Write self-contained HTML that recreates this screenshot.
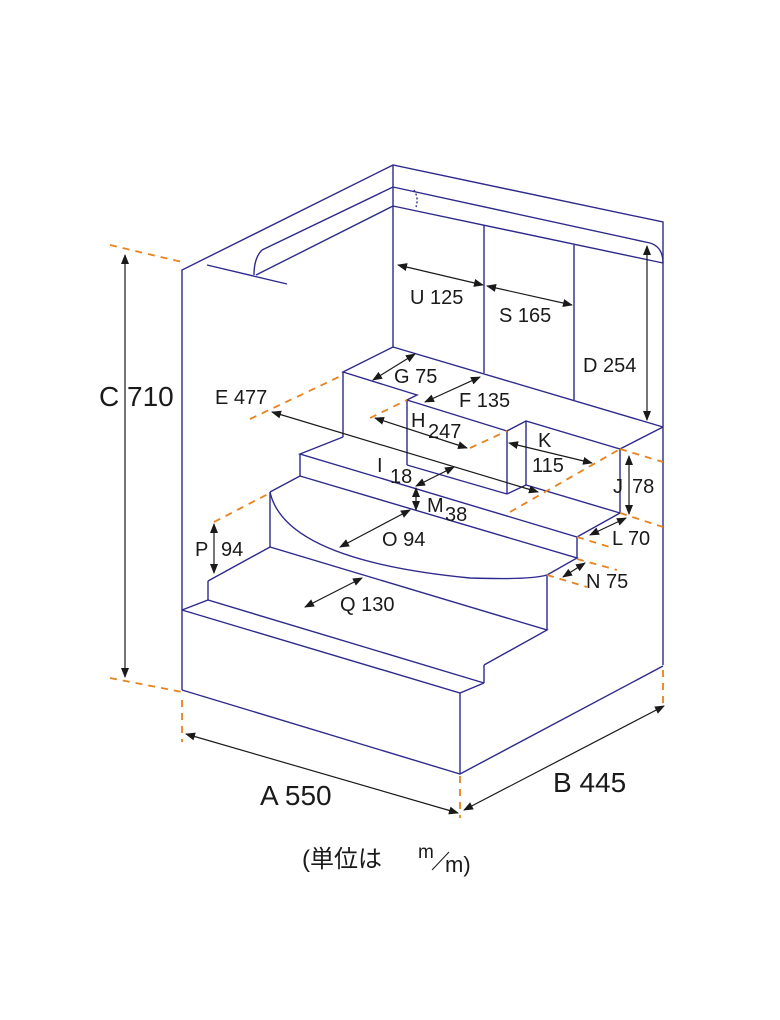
<!DOCTYPE html>
<html><head><meta charset="utf-8"><style>
html,body{margin:0;padding:0;background:#fff}
svg{display:block}
text{font-family:"Liberation Sans","Noto Sans CJK JP",sans-serif;fill:#1a1a1a}
</style></head><body>
<svg width="780" height="1020" viewBox="0 0 780 1020" xmlns="http://www.w3.org/2000/svg">
<defs>
<marker id="a" viewBox="0 0 10 10" refX="9" refY="5" markerWidth="10" markerHeight="10" orient="auto-start-reverse" markerUnits="userSpaceOnUse"><path d="M0,1 L10,5 L0,9 z" fill="#1a1a1a"/></marker>
</defs>
<g fill="none" stroke="#2e2a8c" stroke-width="1.4">
<polyline points="182,690 182,270 393,165 663,222 663,665"/>
<line x1="393" y1="165" x2="393" y2="347"/>
<line x1="393" y1="187" x2="262" y2="250"/>
<path d="M262,250 Q254,258 254,275"/>
<line x1="393" y1="206" x2="256" y2="275"/>
<line x1="207" y1="265" x2="287" y2="284"/>
<line x1="393" y1="187" x2="650" y2="243"/>
<path d="M650,243 Q663,247 663,263"/>
<line x1="393" y1="206" x2="663" y2="263"/>
<path d="M414,190 Q419,198 416,207" stroke-dasharray="2,2"/>
<line x1="484" y1="225" x2="484" y2="373"/>
<line x1="574" y1="245" x2="574" y2="400"/>
<line x1="393" y1="347" x2="663" y2="427"/>
<polyline points="393,347 343,372 417,395 407,400 507,431"/>
<line x1="343" y1="372" x2="343" y2="437"/>
<line x1="407" y1="400" x2="407" y2="465"/>
<polyline points="507,431 526,421 620,449 663,427"/>
<line x1="507" y1="431" x2="507" y2="494"/>
<line x1="526" y1="421" x2="526" y2="485"/>
<polyline points="507,494 526,485 620,513"/>
<line x1="620" y1="449" x2="620" y2="513"/>
<line x1="407" y1="465" x2="507" y2="494"/>
<polyline points="343,437 300,454 577,537 620,513"/>
<line x1="300" y1="454" x2="300" y2="476"/>
<polyline points="300,476 577,558 547,575"/>
<line x1="577" y1="537" x2="577" y2="558"/>
<line x1="300" y1="476" x2="270" y2="492"/>
<path d="M270,492 Q285,560 470,578 Q530,580 547,575"/>
<line x1="270" y1="492" x2="270" y2="547"/>
<polyline points="208,581 270,547 547,630 484,665"/>
<line x1="547" y1="575" x2="547" y2="630"/>
<line x1="208" y1="581" x2="208" y2="600"/>
<polyline points="182,610 208,600 484,683"/>
<line x1="484" y1="665" x2="484" y2="683"/>
<polyline points="182,610 460,693 484,683"/>
<polyline points="182,690 460,774 663,666"/>
<line x1="460" y1="693" x2="460" y2="774"/>
</g>
<g fill="none" stroke="#e8821e" stroke-width="1.8" stroke-dasharray="7,6">
<line x1="110" y1="245" x2="182" y2="262"/>
<line x1="110" y1="678" x2="182" y2="692"/>
<line x1="182" y1="700" x2="182" y2="742"/>
<line x1="460" y1="776" x2="460" y2="818"/>
<line x1="663" y1="670" x2="663" y2="708"/>
<line x1="250" y1="419" x2="343" y2="375"/>
<line x1="370" y1="418" x2="407" y2="400"/>
<line x1="470" y1="448" x2="507" y2="431"/>
<line x1="510" y1="512" x2="620" y2="449"/>
<line x1="620" y1="449" x2="663" y2="462"/>
<line x1="620" y1="513" x2="663" y2="527"/>
<line x1="577" y1="537" x2="613" y2="548"/>
<line x1="577" y1="559" x2="617" y2="570"/>
<line x1="547" y1="575" x2="587" y2="587"/>
<line x1="214" y1="522" x2="270" y2="493"/>
</g>
<g stroke="#1a1a1a" stroke-width="1.2" marker-start="url(#a)" marker-end="url(#a)">
<line x1="125" y1="255" x2="125" y2="677"/>
<line x1="186" y1="734" x2="458" y2="813"/>
<line x1="464" y1="810" x2="664" y2="706"/>
<line x1="398" y1="265" x2="483" y2="285"/>
<line x1="487" y1="286" x2="572" y2="305"/>
<line x1="647" y1="246" x2="647" y2="420"/>
<line x1="373" y1="380" x2="415" y2="354"/>
<line x1="425" y1="402" x2="480" y2="377"/>
<line x1="375" y1="418" x2="467" y2="448"/>
<line x1="272" y1="412" x2="538" y2="492"/>
<line x1="416" y1="486" x2="454" y2="467"/>
<line x1="416" y1="488" x2="416" y2="510"/>
<line x1="340" y1="547" x2="410" y2="510"/>
<line x1="305" y1="607" x2="362" y2="578"/>
<line x1="214" y1="524" x2="214" y2="573"/>
<line x1="629" y1="456" x2="629" y2="514"/>
<line x1="509" y1="443" x2="592" y2="463"/>
<line x1="590" y1="535" x2="626" y2="518"/>
<line x1="563" y1="577" x2="585" y2="563"/>
</g>
<g font-size="20">
<text x="410" y="304">U 125</text>
<text x="499" y="322">S 165</text>
<text x="583" y="372">D 254</text>
<text x="394" y="383">G 75</text>
<text x="459" y="407">F 135</text>
<text x="215" y="404">E 477</text>
<text x="411" y="427">H</text><text x="428" y="438">247</text>
<text x="538" y="447">K</text>
<text x="532" y="472">115</text>
<text x="613" y="493">J</text><text x="632" y="493">78</text>
<text x="377" y="472">I</text><text x="390" y="483">18</text>
<text x="427" y="512">M</text><text x="445" y="521">38</text>
<text x="382" y="546">O 94</text>
<text x="195" y="556">P</text><text x="221" y="556">94</text>
<text x="340" y="611">Q 130</text>
<text x="612" y="545">L 70</text>
<text x="586" y="588">N 75</text>
</g>
<g font-size="28">
<text x="99" y="406">C 710</text>
<text x="260" y="805">A 550</text>
<text x="553" y="792">B 445</text>
</g>
<text x="302" y="867" font-size="24">(単位は</text>
<text x="418" y="858" font-size="19">m</text>
<line x1="432" y1="870" x2="449" y2="852" stroke="#1a1a1a" stroke-width="1"/>
<text x="445" y="872" font-size="22">m)</text>
</svg>
</body></html>
